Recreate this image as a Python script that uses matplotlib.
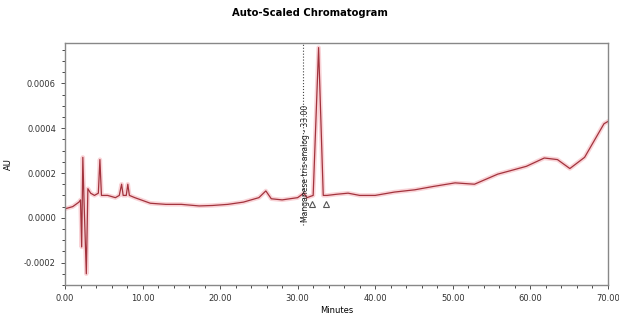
import numpy as np
import matplotlib.pyplot as plt
from matplotlib.ticker import MultipleLocator, FormatStrFormatter

# retention time (min) and detector response (AU)
minutes = [0.0, 1.0, 1.8, 2.0, 2.15, 2.3, 2.45, 2.75, 2.95, 3.3, 3.8, 4.3, 4.5, 4.7,
           5.5, 6.5, 7.0, 7.3, 7.5, 7.9, 8.1, 8.3, 9.0, 11.0, 13.0, 15.0, 17.3,
           19.0, 21.0, 23.0, 25.0, 25.9, 26.6, 28.0, 30.0, 30.8, 31.2, 32.0,
           32.7, 33.3, 33.8, 35.0, 36.5, 38.0, 40.0, 42.5, 45.1, 47.5, 50.3,
           52.8, 55.8, 57.4, 59.5, 61.8, 63.5, 65.1, 67.0, 69.5, 70.0]
au = [0.00004, 0.00005, 0.00007, 0.00008, -0.00013, 0.00027, 0.00008, -0.00025,
      0.00013, 0.00011, 0.00010, 0.00011, 0.00026, 0.00010, 0.00010, 0.00009,
      0.00010, 0.00015, 0.00010, 0.00010, 0.00015, 0.00010, 0.00009, 0.000065,
      0.00006, 0.00006, 0.000053, 0.000055, 0.00006, 0.00007, 0.00009,
      0.00012, 0.000085, 0.00008, 0.00009, 0.00011, 0.00009, 0.00010,
      0.00076, 0.00010, 0.00010, 0.000105, 0.00011, 0.00010, 0.00010,
      0.000115, 0.000125, 0.00014, 0.000156, 0.00015, 0.000195, 0.00021,
      0.00023, 0.000267, 0.00026, 0.00022, 0.00027, 0.00042, 0.00043]

peak_start, peak_end = 31.9, 33.7
peak_label = 'Manganese tris-analog - 33.00'
label_time = 30.7

fig = plt.figure(figsize=(6.19, 3.22), dpi=100)
ax = fig.add_axes([0.105, 0.115, 0.877, 0.751])

# soft halo under the trace
ax.plot(minutes, au, color='#f4a8b0', lw=3.2, alpha=0.5)
ax.plot(minutes, au, color='#a3333d', lw=0.9)

# integration baseline markers
ax.plot([peak_start, peak_end], [0.00006, 0.00006], ls='none', marker='^',
        markersize=5, markerfacecolor='white', markeredgecolor='#555555', mew=0.8)

ax.axvline(label_time, ymin=0.25, ymax=1.0, color='#444444', lw=0.8, ls=':')
ax.text(label_time + 0.25, -0.00002, peak_label, rotation=90, fontsize=5.5,
        ha='center', va='bottom', color='#222222')

ax.set_xlim(0, 70)
ax.set_ylim(-0.0003, 0.00078)
ax.xaxis.set_major_locator(MultipleLocator(10))
ax.xaxis.set_minor_locator(MultipleLocator(2))
ax.yaxis.set_major_locator(MultipleLocator(0.0002))
ax.yaxis.set_minor_locator(MultipleLocator(0.00005))
ax.xaxis.set_major_formatter(FormatStrFormatter('%.2f'))
ax.yaxis.set_major_formatter(FormatStrFormatter('%.4f'))
ax.tick_params(labelsize=6, length=3, width=0.6, colors='#333333')
ax.tick_params(which='minor', length=2, width=0.5)
for s in ax.spines.values():
    s.set_color('#888888')
    s.set_linewidth(1.0)

ax.set_xlabel('Minutes', fontsize=6, labelpad=2)
ax.set_ylabel('AU', fontsize=6, labelpad=8)
fig.suptitle('Auto-Scaled Chromatogram', fontsize=8, fontweight='bold',
             fontstretch='condensed', y=0.975)

fig.savefig('out.png', dpi=100)
